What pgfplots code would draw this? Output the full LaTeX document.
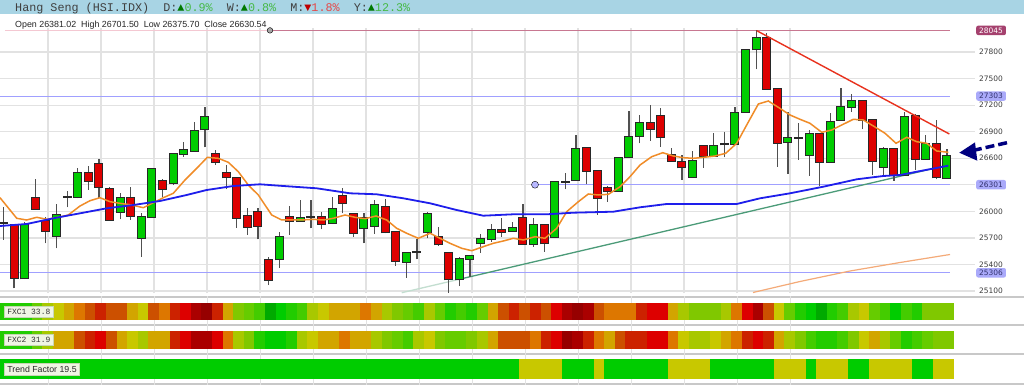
\documentclass[border=0pt]{standalone}
\usepackage{fontspec}
\usepackage{pgfplots}
\usepackage{pgfplotstable}
\pgfplotsset{compat=1.18}
\setmainfont{Liberation Sans}
\newfontfamily\monofont{Liberation Mono}
\newfontfamily\tickfont{DejaVu Sans}

\definecolor{gridc}{RGB}{226,226,226}
\definecolor{sepc}{RGB}{200,200,200}
\definecolor{tickc}{RGB}{60,60,60}
\definecolor{wickc}{RGB}{80,80,80}
\definecolor{edgec}{RGB}{40,40,40}
\definecolor{upc}{RGB}{0,204,0}
\definecolor{dnc}{RGB}{221,0,0}
\definecolor{maorange}{RGB}{240,140,40}
\definecolor{mablue}{RGB}{30,30,235}
\definecolor{lvlblue}{RGB}{160,160,255}
\definecolor{lvlbox}{RGB}{170,170,250}
\definecolor{lvltext}{RGB}{50,50,110}
\definecolor{pinkl}{RGB}{244,200,210}
\definecolor{pinkd}{RGB}{200,120,145}
\definecolor{maroonbox}{RGB}{165,65,110}
\definecolor{trendred}{RGB}{232,50,30}
\definecolor{trendgreen}{RGB}{75,155,120}
\definecolor{trendgreenl}{RGB}{195,222,208}
\definecolor{smaslow}{RGB}{244,170,120}
\definecolor{navyc}{RGB}{0,0,128}
\definecolor{headc}{RGB}{64,64,64}
\definecolor{bandc}{RGB}{168,212,228}
\definecolor{hdg}{RGB}{0,120,0}
\definecolor{hlg}{RGB}{70,185,70}
\definecolor{hdr}{RGB}{190,0,0}
\definecolor{hlr}{RGB}{230,70,70}
\definecolor{labfill}{RGB}{240,245,228}
\definecolor{labedge}{RGB}{200,215,180}
% strip palette
\definecolor{cA}{RGB}{0,170,0}
\definecolor{cB}{RGB}{0,204,0}
\definecolor{cC}{RGB}{34,204,0}
\definecolor{cD}{RGB}{68,204,0}
\definecolor{cE}{RGB}{102,204,0}
\definecolor{cF}{RGB}{128,200,0}
\definecolor{cG}{RGB}{168,200,0}
\definecolor{cH}{RGB}{200,200,0}
\definecolor{cI}{RGB}{210,165,0}
\definecolor{cJ}{RGB}{221,119,0}
\definecolor{cK}{RGB}{204,80,0}
\definecolor{cL}{RGB}{204,34,0}
\definecolor{cM}{RGB}{221,0,0}
\definecolor{cN}{RGB}{170,0,0}
\definecolor{cO}{RGB}{150,0,0}

\pgfdeclareplotmark{cellA}{\pgfpathrectangle{\pgfpoint{-5.35bp}{-8.35bp}}{\pgfpoint{10.7bp}{16.7bp}}\pgfusepathqfill}
\pgfdeclareplotmark{cellB}{\pgfpathrectangle{\pgfpoint{-5.35bp}{-9.15bp}}{\pgfpoint{10.7bp}{18.3bp}}\pgfusepathqfill}
\pgfdeclareplotmark{cellC}{\pgfpathrectangle{\pgfpoint{-5.35bp}{-10bp}}{\pgfpoint{10.7bp}{20bp}}\pgfusepathqfill}

\pgfplotsset{
  palette/.style={scatter/classes={A={cA},B={cB},C={cC},D={cD},E={cE},F={cF},G={cG},H={cH},I={cI},J={cJ},K={cK},L={cL},M={cM},N={cN},O={cO}}},
  wick/.style={draw=none, mark=none, forget plot, error bars/.cd, y dir=plus, y explicit, error mark=none, error bar style={line width=1.2bp, draw=wickc}},
  bodyout/.style={draw=none, mark=none, forget plot, error bars/.cd, y dir=plus, y explicit, error mark=none, error bar style={line width=9bp, draw=edgec}},
  bodyin/.style={draw=none, mark=none, forget plot, error bars/.cd, y dir=plus, y explicit, error mark=none, error bar style={line width=7bp, draw=#1}},
}
\tikzset{
  lvlnode/.style={anchor=west, xshift=1bp, inner xsep=3bp, inner ysep=0pt, minimum height=9.5bp, rounded corners=2bp, font=\tickfont\fontsize{7.5}{8}\selectfont},
}

\pgfplotstableread{
i o h l c
2 25243.5 25883.1 25235 25845.8
5 25725 26079.7 25582.5 25958.8
7 26165.6 26486.5 26147.5 26430
11 25996.1 26204 25910.2 26147.5
13 25702.3 25978 25487.6 25932.8
14 25932.8 26486.5 25932.8 26478.6
16 26323.8 26662.8 26297.8 26644.7
17 26648.1 26787.1 26617.6 26693.3
18 26685.4 27013.1 26685.4 26911.4
19 26927.2 27182.6 26723.8 27069.7
26 25458.2 25763.3 25363.2 25706.8
28 25894.4 26128.3 25883.1 25921.5
31 25865 26165.6 25857 26023.2
34 25808.5 25978 25639 25921.5
35 25834.5 26128.3 25744.1 26071.8
38 25431.1 25544.1 25250.3 25532.8
40 25763.3 25989.4 25695.5 25966.7
43 25232.2 25487.6 25156.5 25458.2
44 25461.6 25506.8 25261.6 25495.5
45 25639 25740.7 25532.8 25684.2
46 25684.2 25857 25657.2 25789.3
48 25781.4 25876.4 25770.2 25808.5
50 25631.1 25921.5 25600.6 25845.8
52 25713.6 26343.1 25713.6 26328.4
54 26354.3 26862.8 26343 26704.6
58 26230 26599.5 26230 26599.5
59 26610.8 27137.4 26610.8 26836.8
60 26854.9 27088.8 26769 26995
65 26391.6 26682 26391.6 26572.4
67 26625.5 26882.1 26617.6 26738.5
69 26761 27175.8 26761 27114.8
70 27126.1 27823.3 27126.1 27823.3
71 27831.2 28049.3 27605.4 27956
74 26780.4 27119.4 26422.1 26825.5
76 26636.8 26919.3 26402.9 26874
78 26561.1 27114.8 26561.1 27013.1
79 27032.3 27397.3 27032.3 27175.8
80 27182.6 27326 27126.1 27250.5
83 26504.6 26730.6 26391.6 26701.2
85 26410.8 27126.1 26410.8 27069.7
87 26591.6 26862.8 26591.6 26757.7
89 26381.02 26701.5 26375.7 26630.54
}\upt

\pgfplotstableread{
i o h l c
1 25845.8 25857 25130.5 25250.3
3 26147.5 26365.6 26015.3 26026.6
4 25894.4 25939.6 25639 25781.4
8 26430 26512.5 26241.3 26346.4
9 26535.1 26588.2 26147.5 26278.6
10 26256 26271.8 25902.3 25902.3
12 26147.5 26278.6 25902.3 25950.9
15 26346.4 26362.2 26165.6 26249.2
20 26648.1 26693.3 26523.8 26561.1
21 26436.8 26523.8 26249.2 26384.9
22 26380.3 26380.3 25815.3 25928.3
23 25947.5 26034.5 25732.8 25826.6
24 25989.4 26034.5 25684.2 25837.9
25 25450.3 25480.8 25167.8 25224.3
27 25932.8 26060.5 25732.8 25887.6
30 25932.8 25996.1 25797.2 25857
32 26176.9 26260.5 25978 26097.8
33 25966.7 25984.8 25713.6 25758.8
36 26052.6 26139.6 25752 25763.3
37 25770.2 25770.2 25385.9 25439
41 25713.6 25819.8 25608.5 25627.7
42 25532.8 25532.8 25080.8 25232.2
47 25789.3 25921.5 25713.6 25770.2
49 25921.5 26083.1 25631 25631.1
51 25845.8 25845.8 25544.1 25639
55 26712.5 26712.5 26305.7 26459.2
56 26456 26456 25958.8 26154.2
57 26260.5 26290 26109.2 26233.4
61 26995 27201.8 26795 26930.6
62 27081 27164.5 26730.6 26836.8
63 26636.8 26712.5 26569 26572.4
64 26554.3 26636.8 26354.3 26497.8
66 26738.5 26738.5 26493.3 26625.5
72 27956 28012 27382.6 27382.6
73 27379 27379 26504.6 26776
77 26874 26874 26290 26561.1
81 27250.5 27250.5 26927.2 27032.3
82 27032.3 27032.3 26410.8 26569
84 26701.2 26701.2 26346.4 26410.8
86 27077.5 27096.7 26467.3 26591.6
88 26757.7 27032.3 26362.2 26384.8
}\dnt

\pgfplotstableread{
i o h l c
0 25871.8 26052.6 25676.3 25871.8
6 26165.6 26233.4 26045.8 26165.6
29 25939.6 26128.3 25808.5 25939.6
39 25537.3 25684.2 25458.2 25537.3
53 26331.7 26436.8 26249.2 26331.7
68 26757.7 26900.2 26610.8 26757.7
75 26832.3 26995 26580.3 26832.3
}\djt

\pgfplotstableread{
i a b t
0 C C B
1 C C B
2 C C B
3 E E B
4 G G B
5 H I B
6 I I B
7 J K B
8 K L B
9 L M B
10 K K B
11 K I B
12 I H B
13 H G B
14 K I B
15 J I B
16 L L B
17 M M B
18 N N B
19 O N B
20 L M B
21 I J B
22 F G B
23 E F B
24 D C B
25 A B B
26 B B B
27 C C B
28 D G B
29 G H B
30 H I B
31 I I B
32 I J B
33 I I B
34 J I B
35 I G B
36 G F B
37 F E B
38 E D B
39 D G B
40 G H B
41 E F B
42 C E B
43 D E B
44 C F B
45 E G B
46 I I B
47 K K B
48 L K B
49 K K H
50 L J H
51 K L H
52 M M H
53 N O B
54 O N B
55 N L B
56 K J H
57 J I B
58 J K B
59 J L B
60 L L B
61 M M B
62 M M B
63 I J H
64 G H H
65 F G H
66 F G H
67 F H B
68 G I B
69 J J B
70 M L B
71 N M B
72 K L B
73 H I H
74 E G H
75 C F H
76 B D B
77 A C H
78 C C H
79 D D H
80 G F B
81 H H B
82 E I H
83 D G H
84 B E H
85 D C H
86 C D B
87 F E B
88 F F H
89 F F H
}\strips

\begin{document}
\begin{tikzpicture}[x=1bp,y=1bp]
\fill[white] (0,0) rectangle (1024,385);
\useasboundingbox (0,0) rectangle (1024,385);
% header band
\fill[bandc] (0,371) rectangle (1024,385);
\node[anchor=base west, inner sep=0pt, text=headc, font=\monofont\fontsize{11.8}{12}\selectfont] at (15,374)
 {Hang Seng (HSI.IDX)~~D:{\color{hdg}▲}{\color{hlg}0.9\%}~~W:{\color{hdg}▲}{\color{hlg}0.8\%}~~M:{\color{hdr}▼}{\color{hlr}1.8\%}~~Y:{\color{hdg}▲}{\color{hlg}12.3\%}};
\node[anchor=base west, inner sep=0pt, text=black!85, font=\fontsize{8.9}{10}\selectfont] at (15,358)
 {Open 26381.02~ High 26701.50~ Low 26375.70~ Close 26630.54};

% separators
\foreach \yy in {88.5,60.5,31.2,1.5} {\draw[sepc, line width=2bp] (0,\yy) -- (1024,\yy);}

% strips axis
\begin{axis}[
  at={(0bp,0bp)}, anchor=south west, scale only axis,
  width=975bp, height=89bp,
  xmin=-0.33, xmax=91.65, ymin=0, ymax=89,
  clip=false, axis line style={draw=none}, major tick length=0pt,
  xtick={4.2,9.2,...,74.2}, xticklabels={},
  ytick=\empty, scaled y ticks=false,
  xmajorgrids, major grid style={draw=gridc, line width=1bp},
]
\addplot[scatter, only marks, mark=cellA, scatter src=explicit symbolic, palette]
  table[x expr=\thisrow{i}+0.17, y expr=73.35, meta=a] {\strips};
\addplot[scatter, only marks, mark=cellB, scatter src=explicit symbolic, palette]
  table[x expr=\thisrow{i}+0.17, y expr=45.15, meta=b] {\strips};
\addplot[scatter, only marks, mark=cellC, scatter src=explicit symbolic, palette]
  table[x expr=\thisrow{i}+0.17, y expr=15.7, meta=t] {\strips};
\end{axis}

\node[anchor=west, fill=labfill, draw=labedge, line width=0.6bp, inner xsep=3bp, inner ysep=0pt, minimum height=10.6bp, text=black!80, font=\monofont\fontsize{8}{9}\selectfont] at (4,73) {FXC1 33.8};
\node[anchor=west, fill=labfill, draw=labedge, line width=0.6bp, inner xsep=3bp, inner ysep=0pt, minimum height=10.6bp, text=black!80, font=\monofont\fontsize{8}{9}\selectfont] at (4,45) {FXC2 31.9};
\node[anchor=west, fill=labfill, draw=labedge, line width=0.6bp, inner xsep=3bp, inner ysep=0pt, minimum height=11.6bp, text=black!85, font=\fontsize{8.8}{10}\selectfont] at (4,16) {Trend Factor 19.5};

% main price axis
\begin{axis}[
  at={(0bp,92bp)}, anchor=south west, scale only axis,
  width=975bp, height=265bp,
  xmin=-0.33, xmax=91.65, ymin=25077.4, ymax=28071.9,
  clip=false, axis line style={draw=none}, major tick length=0pt,
  xtick={4.2,9.2,...,74.2}, xticklabels={},
  ytick={25100,25400,25700,26000,26300,26600,26900,27200,27500,27800},
  yticklabels={25100,25400,25700,26000,{},26600,26900,27200,27500,27800},
  scaled y ticks=false,
  yticklabel pos=right,
  yticklabel style={anchor=west, inner sep=0pt, xshift=4bp, text=tickc, font=\tickfont\fontsize{7.5}{8}\selectfont},
  xmajorgrids, ymajorgrids, major grid style={draw=gridc, line width=1.2bp},
]
% level lines
\addplot[pinkl, line width=1bp] coordinates {(0.14,28045) (25.14,28045)};
\addplot[pinkd, line width=1.2bp] coordinates {(25.14,28045) (89.3,28045)};
\addplot[only marks, mark=*, mark size=2.8bp, mark options={fill=gray!70, draw=none}] coordinates {(25.14,28045)};
\addplot[lvlblue, line width=1bp] coordinates {(-0.33,27303) (89.3,27303)};
\addplot[lvlblue, line width=1bp] coordinates {(50.14,26301) (89.3,26301)};
\addplot[only marks, mark=*, mark size=3.5bp, mark options={fill=lvlblue!75, draw=none}] coordinates {(50.14,26301)};
\addplot[lvlblue, line width=1bp] coordinates {(-0.33,25306) (89.3,25306)};

% slow MA
\addplot[smaslow, line width=1.2bp] coordinates {(70.71,25083.1) (75.14,25207.4) (79.86,25326) (84.58,25422.1) (89.29,25512.5)};
% green trendline
\addplot[trendgreenl, line width=1.3bp] coordinates {(37.57,25080.8) (42.88,25229.4)};
\addplot[trendgreen, line width=1.3bp] coordinates {(42.88,25229.4) (89.13,26523.8)};

% wicks
\addplot[wick] table[x=i, y=l, y error expr=\thisrow{h}-\thisrow{l}] {\upt};
\addplot[wick] table[x=i, y=l, y error expr=\thisrow{h}-\thisrow{l}] {\dnt};
\addplot[wick] table[x=i, y=l, y error expr=\thisrow{h}-\thisrow{l}] {\djt};
% bodies
\addplot[bodyout] table[x=i, y expr={min(\thisrow{o},\thisrow{c})-11}, y error expr={abs(\thisrow{c}-\thisrow{o})+22}] {\upt};
\addplot[bodyout] table[x=i, y expr={min(\thisrow{o},\thisrow{c})-11}, y error expr={abs(\thisrow{c}-\thisrow{o})+22}] {\dnt};
\addplot[bodyout] table[x=i, y expr={min(\thisrow{o},\thisrow{c})-11}, y error expr={abs(\thisrow{c}-\thisrow{o})+22}] {\djt};
\addplot[bodyin=upc] table[x=i, y expr={min(\thisrow{o},\thisrow{c})}, y error expr={abs(\thisrow{c}-\thisrow{o})}] {\upt};
\addplot[bodyin=dnc] table[x=i, y expr={min(\thisrow{o},\thisrow{c})}, y error expr={abs(\thisrow{c}-\thisrow{o})}] {\dnt};

% fast MA (orange)
\addplot[maorange, line width=1.5bp] coordinates {
(-0.33,26154.3) (1.25,25921.5) (2.19,25902.3) (3.13,25932.8) (4.08,25910.2) (5.17,25932.8) (6.11,25958.8) (7.22,26060.5) (8.16,26120.4) (9.10,26154.3) (10.05,26109.1) (10.99,26091.0) (12.09,26071.8) (13.19,26041.3) (14.13,26097.8) (15.08,26154.3) (16.02,26204.0) (17.12,26354.3) (18.23,26486.5) (19.23,26610.8) (20.26,26599.5) (21.21,26554.3) (22.15,26448.1) (23.09,26297.8) (24.04,26184.8) (25.30,25958.8) (26.25,25902.3) (27.19,25902.3) (28.13,25902.3) (29.23,25910.2) (30.17,25902.3) (31.11,25921.5) (32.22,25958.8) (33.16,25932.8) (34.10,25917.0) (35.14,25947.5) (36.15,25902.3) (37.09,25808.5) (38.04,25752.0) (39.13,25695.5) (40.24,25752.0) (41.18,25695.5) (42.12,25639.0) (43.23,25582.5) (44.17,25555.4) (45.26,25600.6) (46.21,25639.0) (47.15,25665.0) (48.09,25695.5) (49.04,25676.3) (50.14,25713.6) (51.08,25695.5) (52.19,25808.5) (53.13,25996.1) (54.23,26109.1) (55.17,26196.1) (56.11,26184.8) (57.06,26192.7) (58.17,26278.6) (59.10,26391.6) (60.05,26523.8) (61.15,26617.6) (62.19,26662.8) (63.19,26625.5) (64.13,26606.3) (65.08,26599.5) (66.08,26610.8) (67.12,26625.5) (68.13,26656.0) (69.17,26769.0) (70.11,26975.8) (71.21,27213.1) (72.15,27247.0) (73.09,27175.8) (74.20,27088.8) (75.14,27040.2) (76.08,26995.0) (77.19,26893.4) (78.13,26919.3) (79.08,26975.8) (80.17,27040.2) (81.11,27032.3) (82.06,26964.5) (83.16,26882.1) (84.20,26769.0) (85.21,26836.8) (86.15,26787.1) (87.09,26769.0) (88.03,26682.0) (89.13,26667.3)};
% blue MA
\addplot[mablue, line width=1.8bp] coordinates {
(-0.33,25834.5) (2.19,25857.1) (4.70,25921.5) (7.22,25978.0) (9.74,26034.5) (12.25,26071.8) (14.76,26117.0) (17.28,26184.8) (19.17,26241.3) (21.68,26286.5) (24.20,26305.7) (26.40,26286.5) (29.55,26260.5) (32.69,26204.0) (35.21,26192.7) (37.72,26147.5) (40.24,26091.0) (42.75,26015.3) (45.26,25950.9) (48.09,25966.7) (51.25,25966.7) (53.75,25984.8) (57.53,25996.1) (60.05,26045.8) (62.57,26083.1) (66.34,26083.1) (69.17,26083.1) (71.37,26147.5) (74.20,26204.0) (77.34,26278.6) (80.49,26362.2) (83.0,26399.5) (84.58,26410.8) (86.15,26448.1) (89.13,26516.0)};
% red trendline
\addplot[trendred, line width=1.4bp] coordinates {(71.06,28041.4) (89.23,26874.1)};

% level labels
\node[lvlnode, fill=maroonbox, text=white] at (axis cs:91.65,28045) {28045};
\node[lvlnode, fill=lvlbox, text=lvltext] at (axis cs:91.65,27303) {27303};
\node[lvlnode, fill=lvlbox, text=lvltext] at (axis cs:91.65,26301) {26301};
\node[lvlnode, fill=lvlbox, text=lvltext] at (axis cs:91.65,25306) {25306};
\end{axis}

% arrow
\draw[navyc, line width=3.5bp, dash pattern=on 9bp off 4bp] (1007,242.3) -- (975,235);
\fill[navyc] (959.3,232.3) -- (975,242.6) -- (977.3,224.3) -- cycle;
\end{tikzpicture}
\end{document}
